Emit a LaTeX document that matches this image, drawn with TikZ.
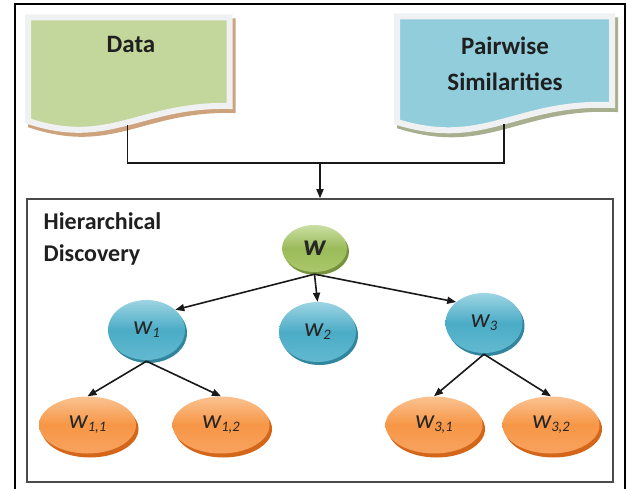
\documentclass[tikz,border=0pt]{standalone}
\usepackage{fontspec}
\setmainfont{Carlito}
\usetikzlibrary{arrows.meta,shapes.geometric,shadows}

\definecolor{docgreen}{HTML}{C3D69B}
\definecolor{docblue}{HTML}{92CDDC}
\definecolor{docborder}{HTML}{F0F1F3}
\definecolor{shbrown}{HTML}{CDA27C}
\definecolor{shgray}{HTML}{A7AF8E}
\definecolor{gtop}{HTML}{CADFA4}
\definecolor{gmid}{HTML}{9BBB59}
\definecolor{gbot}{HTML}{AAC86C}
\definecolor{gsh}{HTML}{76923C}
\definecolor{btop}{HTML}{9DD4E3}
\definecolor{bmid}{HTML}{4BACC6}
\definecolor{bbot}{HTML}{62B9D0}
\definecolor{bsh}{HTML}{31859C}
\definecolor{otop}{HTML}{FAC291}
\definecolor{omid}{HTML}{F79646}
\definecolor{obot}{HTML}{F8A360}
\definecolor{osh}{HTML}{D4661A}
\definecolor{innerline}{HTML}{4A4A4A}

\newcommand\wsub[1]{\raisebox{-3pt}{\fontsize{14.5}{14.5}\selectfont #1}}

\begin{document}
\begin{tikzpicture}[x=1pt,y=-1pt,
  docedge/.style={draw=docborder, line width=6pt, line join=miter},
  docshadow/.style={line width=6pt, line join=miter, shift={(3,4)}},
  conn/.style={draw=black!90, line width=1.6pt},
  arr/.style={conn, -{Triangle[length=9pt,width=7pt]}},
  title/.style={inner sep=0pt, font=\fontsize{25}{36}\selectfont\bfseries, text=black!88},
  tnode/.style={ellipse, inner sep=0pt, text=black!85, font=\fontsize{26.5}{26.5}\selectfont\itshape},
  gnode/.style={tnode, minimum width=65pt, minimum height=47pt,
    top color=gtop, bottom color=gbot, middle color=gmid,
    drop shadow={shadow xshift=2pt, shadow yshift=-3pt, fill=gsh, opacity=1}},
  bnode/.style={tnode, minimum width=77pt, minimum height=60pt,
    top color=btop, bottom color=bbot, middle color=bmid,
    drop shadow={shadow xshift=2pt, shadow yshift=-3pt, fill=bsh, opacity=1}},
  onode/.style={tnode, minimum width=97pt, minimum height=57pt,
    top color=otop, bottom color=obot, middle color=omid,
    drop shadow={shadow xshift=2.5pt, shadow yshift=-4pt, fill=osh, opacity=1}}
]
\useasboundingbox (0,0) rectangle (629,489);

% outer frame
\draw[line width=2pt, black] (15,489) -- (15,4.5) -- (625,4.5) -- (625,489);

% shadows of the document shapes
\path[docshadow, fill=shbrown, draw=shbrown]
  (28,17.5) -- (229.5,17.5) -- (229.5,106) .. controls (140,104) and (110,148) .. (28,121) -- cycle;
\path[docshadow, fill=shgray, draw=shgray]
  (397,16.5) -- (612,16.5) -- (612,105) .. controls (516,101) and (485,149) .. (397,122) -- cycle;

% document shapes
\path[docedge, fill=docgreen]
  (28,17.5) -- (229.5,17.5) -- (229.5,106) .. controls (140,104) and (110,148) .. coordinate[pos=0.49] (dout) (28,121) -- cycle;
\path[docedge, fill=docblue]
  (397,16.5) -- (612,16.5) -- (612,105) .. controls (516,101) and (485,149) .. coordinate[pos=0.485] (pout) (397,122) -- cycle;

\node[title, anchor=base] (data) at (131,52.7) {Data};
\node[title, align=center, anchor=north] (pair) at (505,36.8) {Pairwise\\Similarities};

% hierarchical discovery box
\node[draw=innerline, line width=1.5pt, minimum width=586pt, minimum height=283pt, inner sep=0pt] (hd) at (320,340.5) {};
\node[title, font=\fontsize{24}{32}\selectfont\bfseries, align=left, anchor=north west] (hdl) at (43.5,212) {Hierarchical\\Discovery};

% connectors from the inputs
\coordinate (join) at (hd.north |- 0,163);
\draw[conn] ([yshift=-3pt]dout) |- (join) -| ([yshift=-3pt]pout);
\draw[arr] (join) -- (hd.north);

% tree nodes
\node[gnode, font=\fontsize{30}{30}\selectfont\bfseries\itshape] (w) at (314.5,248.5) {w};
\node[bnode] (w1) at (146.5,330) {w\wsub{1}};
\node[bnode] (w2) at (317.5,332) {w\wsub{2}};
\node[bnode] (w3) at (484,323) {w\wsub{3}};
\node[onode] (w11) at (87.5,425) {w\wsub{1,1}};
\node[onode] (w12) at (221,425) {w\wsub{1,2}};
\node[onode] (w31) at (434,425) {w\wsub{3,1}};
\node[onode] (w32) at (551,425) {w\wsub{3,2}};

% tree edges
\draw[arr] ([yshift=-2pt]w.south) -- (w1.35);
\draw[arr] ([yshift=-2pt]w.south) -- (w2.north);
\draw[arr] ([yshift=-2pt]w.south) -- (w3.143);
\draw[arr] ([yshift=-1pt]w1.south) -- (w11.north);
\draw[arr] ([yshift=-1pt]w1.south) -- (w12.north);
\draw[arr] ([yshift=-1pt]w3.south) -- (w31.north);
\draw[arr] ([yshift=-1pt]w3.south) -- (w32.north);
\end{tikzpicture}
\end{document}
